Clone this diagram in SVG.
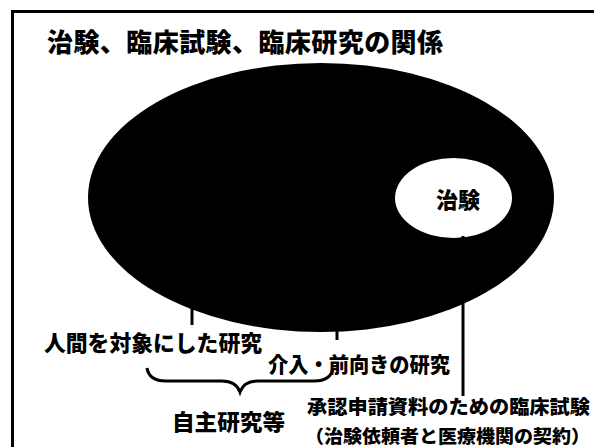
<svg xmlns="http://www.w3.org/2000/svg" width="594" height="447" viewBox="0 0 594 447">
<style>
text{font-family:"Noto Sans CJK JP","Noto Sans CJK SC",sans-serif;font-weight:900;fill:#000}
.ln{stroke:#000;stroke-width:3;fill:none}
</style>
<rect x="0" y="0" width="594" height="447" fill="#fff"/>
<rect x="12.5" y="11.5" width="600" height="460" fill="none" stroke="#000" stroke-width="3"/>
<text x="47" y="52" font-size="26" textLength="396" lengthAdjust="spacing">治験、臨床試験、臨床研究の関係</text>
<g id="clinical-research">
<ellipse cx="321" cy="197.5" rx="233" ry="134.5" fill="#000"/>
</g>
<g id="chiken">
<ellipse cx="453.5" cy="198" rx="58.5" ry="40" fill="#fff"/>
<text x="458" y="208" font-size="22" text-anchor="middle">治験</text>
</g>
<g id="connectors">
<line class="ln" x1="192" y1="300" x2="192" y2="325"/>
<line class="ln" x1="337" y1="320" x2="337" y2="340"/>
<line class="ln" x1="463" y1="236" x2="463" y2="396"/>
<path class="ln" stroke-width="2.5" d="M147,368 Q149,381 166,381 L222,381 Q236,381 240,392 Q244,381 258,381 L314,381 Q331,381 333,368"/>
</g>
<g id="label-human">
<text x="44" y="351" font-size="22" textLength="218" lengthAdjust="spacingAndGlyphs">人間を対象にした研究</text>
</g>
<g id="label-intervention">
<text x="268" y="372" font-size="21" textLength="182" lengthAdjust="spacingAndGlyphs">介入・前向きの研究</text>
</g>
<g id="label-jishu">
<text x="172" y="430" font-size="22" textLength="113" lengthAdjust="spacingAndGlyphs">自主研究等</text>
</g>
<g id="label-approval">
<text x="307" y="414" font-size="19" textLength="283" lengthAdjust="spacingAndGlyphs">承認申請資料のための臨床試験</text>
<text x="305" y="443" font-size="18" textLength="285" lengthAdjust="spacingAndGlyphs">（治験依頼者と医療機関の契約）</text>
</g>
</svg>
